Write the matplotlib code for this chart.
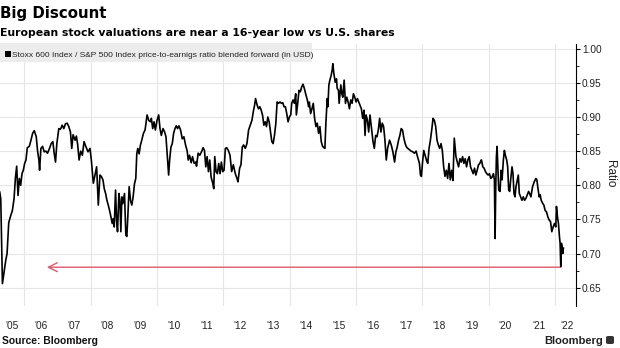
import matplotlib
matplotlib.use("Agg")
import matplotlib.pyplot as plt
import matplotlib.transforms as mtransforms
from matplotlib.patches import Rectangle, FancyBboxPatch
import numpy as np

# ---------------- data (decimal year, ratio) ----------------
years_a = [2005.26, 2005.29, 2005.34, 2005.38, 2005.44, 2005.48, 2005.53, 2005.58, 2005.64, 2005.69,
           2005.73, 2005.77, 2005.81, 2005.85, 2005.89, 2005.93, 2005.97, 2006.01, 2006.05, 2006.09,
           2006.15, 2006.20, 2006.25, 2006.30, 2006.36, 2006.40, 2006.44, 2006.46, 2006.50, 2006.55,
           2006.60, 2006.65, 2006.70, 2006.76, 2006.81, 2006.86, 2006.90, 2006.94, 2006.98, 2007.04,
           2007.09, 2007.14, 2007.19, 2007.24, 2007.29, 2007.34, 2007.39, 2007.43, 2007.47, 2007.53,
           2007.57, 2007.61, 2007.65, 2007.70, 2007.75, 2007.80, 2007.86, 2007.92, 2007.98, 2008.02,
           2008.08, 2008.14, 2008.18, 2008.23, 2008.28]
ratio_a = [0.79, 0.78, 0.656, 0.67, 0.69, 0.70, 0.745, 0.754, 0.763, 0.78,
           0.81, 0.828, 0.785, 0.81, 0.80, 0.817, 0.822, 0.832, 0.837, 0.855,
           0.857, 0.866, 0.876, 0.88, 0.871, 0.85, 0.837, 0.822, 0.854, 0.857,
           0.849, 0.85, 0.847, 0.854, 0.861, 0.864, 0.847, 0.834, 0.861, 0.883,
           0.882, 0.888, 0.883, 0.89, 0.891, 0.886, 0.878, 0.854, 0.874, 0.866,
           0.872, 0.859, 0.837, 0.85, 0.844, 0.864, 0.856, 0.849, 0.854, 0.837,
           0.803, 0.817, 0.827, 0.771, 0.815]

years_b = [2008.32, 2008.37, 2008.41, 2008.45, 2008.49, 2008.53, 2008.57, 2008.61, 2008.65, 2008.68,
           2008.71, 2008.75, 2008.78, 2008.81, 2008.85, 2008.88, 2008.91, 2008.94, 2008.97,
           2009.02, 2009.06, 2009.09, 2009.12, 2009.16, 2009.20, 2009.24, 2009.28, 2009.32, 2009.36,
           2009.39, 2009.42, 2009.46, 2009.50, 2009.54, 2009.59, 2009.64, 2009.70, 2009.75, 2009.80,
           2009.83, 2009.87, 2009.91, 2009.95,
           2010.00, 2010.05, 2010.09, 2010.13, 2010.18, 2010.23, 2010.27, 2010.31, 2010.35, 2010.38,
           2010.42, 2010.46, 2010.50, 2010.54, 2010.58, 2010.62, 2010.66, 2010.71, 2010.76, 2010.81,
           2010.86, 2010.91, 2010.94, 2010.98,
           2011.03, 2011.07, 2011.12, 2011.17]
ratio_b = [0.813, 0.808, 0.795, 0.788, 0.778, 0.771, 0.763, 0.754, 0.744, 0.751,
           0.739, 0.793, 0.749, 0.732, 0.788, 0.778, 0.732, 0.783, 0.773,
           0.788, 0.727, 0.725, 0.754, 0.798, 0.778, 0.771, 0.783, 0.802, 0.81,
           0.846, 0.854, 0.846, 0.859, 0.866, 0.876, 0.881, 0.903, 0.895, 0.893,
           0.898, 0.883, 0.893, 0.881,
           0.895, 0.903, 0.883, 0.873, 0.883, 0.878, 0.871, 0.842, 0.815, 0.837,
           0.856, 0.861, 0.876, 0.883, 0.887, 0.883, 0.887, 0.881, 0.868, 0.871,
           0.859, 0.85, 0.837, 0.844,
           0.833, 0.842, 0.832, 0.834]

years_c = [2011.19, 2011.24, 2011.29, 2011.34, 2011.39, 2011.43, 2011.47, 2011.51, 2011.55, 2011.59,
           2011.63, 2011.68, 2011.71, 2011.74, 2011.78, 2011.82, 2011.86, 2011.90, 2011.94, 2011.98,
           2012.02, 2012.06, 2012.10, 2012.15, 2012.20, 2012.25, 2012.30, 2012.36, 2012.41, 2012.44,
           2012.49, 2012.53, 2012.57, 2012.61, 2012.66, 2012.71, 2012.76, 2012.81, 2012.86, 2012.91,
           2012.94, 2012.97,
           2013.02, 2013.06, 2013.10, 2013.14, 2013.18, 2013.22, 2013.26, 2013.30, 2013.34, 2013.38,
           2013.42, 2013.46, 2013.50, 2013.54, 2013.58, 2013.62, 2013.66, 2013.71, 2013.75, 2013.79,
           2013.83, 2013.87, 2013.91, 2013.95, 2013.99, 2014.03]
ratio_c = [0.828, 0.847, 0.844, 0.849, 0.855, 0.851, 0.827, 0.842, 0.820, 0.837,
           0.812, 0.803, 0.795, 0.842, 0.820, 0.817, 0.832, 0.817, 0.834, 0.820,
           0.822, 0.854, 0.855, 0.851, 0.844, 0.820, 0.830, 0.817, 0.810, 0.805,
           0.825, 0.830, 0.856, 0.859, 0.854, 0.861, 0.881, 0.888, 0.895, 0.91,
           0.917, 0.927,
           0.917, 0.912, 0.915, 0.91, 0.903, 0.888, 0.893, 0.886, 0.90, 0.893,
           0.878, 0.864, 0.861, 0.873, 0.89, 0.922, 0.92, 0.922, 0.92, 0.921,
           0.915, 0.915, 0.905, 0.893, 0.90, 0.903]

years_d = [2014.06, 2014.10, 2014.14, 2014.18, 2014.20, 2014.24, 2014.28, 2014.32, 2014.36, 2014.40,
           2014.44, 2014.48, 2014.53, 2014.57, 2014.59, 2014.63, 2014.67, 2014.71, 2014.75, 2014.79,
           2014.83, 2014.87, 2014.91, 2014.95, 2014.99,
           2015.03, 2015.06, 2015.09, 2015.11, 2015.13, 2015.15, 2015.18, 2015.21, 2015.25, 2015.28,
           2015.30, 2015.33, 2015.37, 2015.41, 2015.43, 2015.47, 2015.49, 2015.54, 2015.57, 2015.60,
           2015.64, 2015.68, 2015.72, 2015.76, 2015.80, 2015.84, 2015.88, 2015.92, 2015.96,
           2016.00, 2016.04, 2016.08, 2016.12, 2016.16, 2016.20, 2016.24, 2016.27, 2016.30, 2016.34,
           2016.38, 2016.42, 2016.46, 2016.51, 2016.55, 2016.59, 2016.63, 2016.67, 2016.71, 2016.75,
           2016.79, 2016.83, 2016.87, 2016.91]
ratio_d = [0.92, 0.925, 0.92, 0.934, 0.903, 0.92, 0.939, 0.937, 0.944, 0.948,
           0.942, 0.934, 0.925, 0.915, 0.922, 0.905, 0.912, 0.92, 0.898, 0.886,
           0.891, 0.876, 0.886, 0.864, 0.857,
           0.855, 0.854, 0.891, 0.91, 0.927, 0.915, 0.947, 0.954, 0.961, 0.969,
           0.978, 0.964, 0.951, 0.956, 0.942, 0.939, 0.92, 0.947, 0.934, 0.929,
           0.954, 0.92, 0.929, 0.922, 0.912, 0.925, 0.92, 0.934, 0.929,
           0.922, 0.927, 0.922, 0.917, 0.912, 0.898, 0.91, 0.873, 0.903, 0.896,
           0.878, 0.903, 0.886, 0.864, 0.854, 0.873, 0.871, 0.881, 0.898, 0.878,
           0.891, 0.886, 0.866, 0.837]

years_e = [2016.95,
           2017.01, 2017.06, 2017.11, 2017.16, 2017.20, 2017.24, 2017.28, 2017.32, 2017.36, 2017.40,
           2017.44, 2017.48, 2017.52, 2017.56, 2017.61, 2017.66, 2017.71, 2017.76, 2017.81, 2017.84,
           2017.88, 2017.91, 2017.94, 2017.97,
           2018.00, 2018.04, 2018.08, 2018.12, 2018.16, 2018.20, 2018.24, 2018.28, 2018.32, 2018.36,
           2018.40, 2018.44, 2018.48, 2018.52, 2018.56, 2018.60, 2018.64, 2018.68, 2018.72, 2018.76,
           2018.80, 2018.84, 2018.88, 2018.92, 2018.96,
           2019.01, 2019.05, 2019.09, 2019.13, 2019.17, 2019.21, 2019.25, 2019.29, 2019.33, 2019.37,
           2019.41, 2019.45, 2019.49, 2019.53, 2019.57, 2019.61, 2019.65, 2019.69, 2019.73, 2019.77]
ratio_e = [0.854,
           0.866, 0.859, 0.849, 0.834, 0.849, 0.856, 0.866, 0.873, 0.883, 0.881,
           0.869, 0.861, 0.856, 0.854, 0.852, 0.85, 0.849, 0.847, 0.85, 0.844,
           0.837, 0.832, 0.815, 0.813,
           0.832, 0.851, 0.844, 0.837, 0.832, 0.854, 0.866, 0.881, 0.898, 0.895,
           0.886, 0.866, 0.859, 0.854, 0.861, 0.851, 0.827, 0.813, 0.822, 0.81,
           0.832, 0.808, 0.822, 0.807, 0.869,
           0.842, 0.834, 0.827, 0.839, 0.834, 0.842, 0.832, 0.839, 0.827, 0.837,
           0.842, 0.827, 0.822, 0.817, 0.825, 0.815, 0.822, 0.830, 0.832, 0.837]

years_f = [2019.78, 2019.82, 2019.86, 2019.90, 2019.94, 2019.98,
           2020.02, 2020.06, 2020.10, 2020.14, 2020.17, 2020.19, 2020.21, 2020.23, 2020.25, 2020.28,
           2020.30, 2020.34, 2020.37, 2020.40, 2020.44, 2020.47, 2020.50, 2020.54, 2020.57, 2020.60,
           2020.63, 2020.66, 2020.70, 2020.73, 2020.76, 2020.79, 2020.82, 2020.86, 2020.89, 2020.92,
           2020.96,
           2021.00, 2021.04, 2021.08, 2021.12, 2021.16, 2021.20, 2021.23, 2021.27, 2021.32, 2021.37,
           2021.42, 2021.45, 2021.48, 2021.52, 2021.55, 2021.58, 2021.62, 2021.66, 2021.70, 2021.74,
           2021.78, 2021.82, 2021.86, 2021.90, 2021.94, 2021.98,
           2022.02, 2022.04, 2022.07, 2022.10, 2022.13, 2022.15, 2022.17, 2022.19, 2022.21, 2022.23,
           2022.25]
ratio_f = [0.837, 0.827, 0.825, 0.820, 0.817, 0.815,
           0.817, 0.810, 0.812, 0.817, 0.808, 0.722, 0.798, 0.842, 0.857, 0.817,
           0.793, 0.791, 0.822, 0.808, 0.837, 0.851, 0.844, 0.837, 0.827, 0.793,
           0.791, 0.808, 0.827, 0.817, 0.788, 0.783, 0.798, 0.808, 0.815, 0.788,
           0.783,
           0.778, 0.783, 0.778, 0.781, 0.786, 0.791, 0.788, 0.783, 0.798, 0.805,
           0.810, 0.808, 0.796, 0.783, 0.786, 0.778, 0.774, 0.771, 0.763, 0.761,
           0.754, 0.749, 0.747, 0.732, 0.739, 0.744,
           0.739, 0.769, 0.754, 0.744, 0.725, 0.715, 0.681, 0.715, 0.71, 0.70,
           0.708]

# reference arrow (16-year low level)
arrow_level = 0.68
arrow_start = 2022.17
arrow_end = 2006.68

y_ticks = [0.65, 0.70, 0.75, 0.80, 0.85, 0.90, 0.95, 1.00]
x_label_years = list(range(2005, 2023))
x_labels = ["'05", "'06", "'07", "'08", "'09", "'10", "'11", "'12", "'13",
            "'14", "'15", "'16", "'17", "'18", "'19", "'20", "'21", "'22"]
grid_years = list(range(2006, 2023, 2))

title = "Big Discount"
subtitle = "European stock valuations are near a 16-year low vs U.S. shares"
legend_text = "Stoxx 600 Index / S&P 500 Index price-to-earnigs ratio blended forward (in USD)"
source = "Source: Bloomberg"

years = np.array(years_a + years_b + years_c + years_d + years_e + years_f)
ratio = np.array(ratio_a + ratio_b + ratio_c + ratio_d + ratio_e + ratio_f)

# ---------------- figure ----------------
W, H = 620, 348
fig = plt.figure(figsize=(W / 100, H / 100), dpi=100)
fig.patch.set_facecolor("white")

def fx(px):
    return px / W

def fy(py):
    return 1 - py / H

ax_left, ax_right, ax_top, ax_bottom = 0, 575.7, 44, 306
ax = fig.add_axes([fx(ax_left), fy(ax_bottom), fx(ax_right - ax_left), (ax_bottom - ax_top) / H])
ax.set_facecolor("white")

ax.plot(years, ratio, color="black", lw=1.2, zorder=3)
ax.annotate("", xy=(arrow_end, arrow_level), xytext=(arrow_start, arrow_level),
            arrowprops=dict(arrowstyle="->", color="#de5a6c", lw=1.0,
                            mutation_scale=16, shrinkA=0, shrinkB=0), zorder=2)

ax.set_xlim(2005.267, 2022.62)
ax.set_ylim(0.6232, 1.0069)

# y axis on right
ax.yaxis.tick_right()
ax.set_yticks(y_ticks)
ax.set_yticks([v + 0.025 for v in y_ticks[:-1]], minor=True)
ax.set_yticklabels([f"{v:.2f}" for v in y_ticks])
ax.tick_params(axis="y", which="major", direction="out", length=3, width=0.8,
               color="black", pad=1.5, labelsize=7.3, labelcolor="#222222")
ax.tick_params(axis="y", which="minor", direction="out", length=2, width=0.6, color="black")
for lbl in ax.get_yticklabels():
    lbl.set_fontfamily(["Liberation Sans", "DejaVu Sans"])

# x grid at even years, labels at mid-year drawn as text
ax.set_xticks(grid_years)
ax.set_xticklabels([])
ax.tick_params(axis="x", which="major", length=0)
ax.grid(axis="x", color="#e6e6e6", lw=0.8, zorder=0)
ax.grid(axis="y", which="major", color="#e6e6e6", lw=0.8, zorder=0)
ax.set_axisbelow(True)

for s in ("left", "top", "bottom"):
    ax.spines[s].set_visible(False)
ax.spines["right"].set_color("black")
ax.spines["right"].set_linewidth(0.8)

trans_x = mtransforms.blended_transform_factory(ax.transData, ax.transAxes)
n_lbl = len(x_labels)
for i, (yr, lab) in enumerate(zip(x_label_years, x_labels)):
    t = trans_x
    if i == 0:
        t = trans_x + mtransforms.ScaledTranslation(4 / 100, 0, fig.dpi_scale_trans)
    elif i == n_lbl - 1:
        t = trans_x + mtransforms.ScaledTranslation(-5 / 100, 0, fig.dpi_scale_trans)
    ax.text(yr + 0.5, -0.078, lab, transform=t, ha="center", va="center",
            fontsize=7.3, color="#222222", family=["Liberation Sans", "DejaVu Sans"],
            clip_on=False)

fig.text(fx(610), fy(174), "Ratio", rotation=270, ha="center", va="center",
         fontsize=8.5, color="#222222", family=["Liberation Sans", "DejaVu Sans"])

# titles
fig.text(fx(0), fy(18.3), title, fontsize=10.8, fontweight="bold", ha="left",
         va="baseline", family=["DejaVu Sans"], color="black")
fig.text(fx(0), fy(36), subtitle, fontsize=7.85, fontweight="bold", ha="left",
         va="baseline", family=["DejaVu Sans"], color="black")

# legend box
fig.patches.append(Rectangle((fx(0), fy(62)), fx(312), 19 / H, transform=fig.transFigure,
                             facecolor="#ececec", edgecolor="none", zorder=5))
fig.patches.append(Rectangle((fx(5), fy(56.5)), fx(5.5), 5.5 / H, transform=fig.transFigure,
                             facecolor="black", edgecolor="none", zorder=6))
fig.text(fx(12), fy(56.7), legend_text, fontsize=6.0, ha="left", va="baseline",
         family=["Liberation Sans", "DejaVu Sans"],
         color="#222222", zorder=7)

# footer
fig.text(fx(2), fy(344.5), source, fontsize=7.4, fontweight="bold", ha="left",
         va="baseline", family=["Liberation Sans", "DejaVu Sans"], color="#111111")
fig.text(fx(603), fy(343.5), "Bloomberg", fontsize=8, fontweight="bold", ha="right",
         va="baseline", family=["Liberation Sans", "DejaVu Sans"], color="#222222")
fig.patches.append(FancyBboxPatch((fx(606), fy(344)), fx(8), 8 / H, transform=fig.transFigure,
                                  boxstyle="round,pad=0,rounding_size=0.004",
                                  facecolor="#333333", edgecolor="none", zorder=5))

fig.savefig("out.png", dpi=100, facecolor="white")
